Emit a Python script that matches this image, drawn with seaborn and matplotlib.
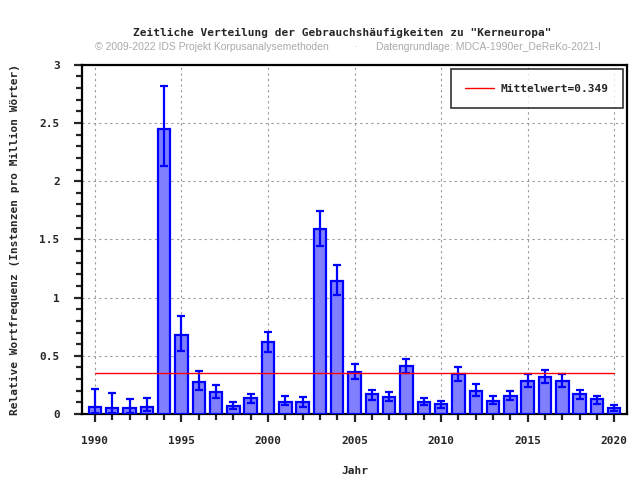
import numpy as np
import pandas as pd
import matplotlib
matplotlib.use("Agg")
import matplotlib.pyplot as plt
from matplotlib.ticker import MultipleLocator
import seaborn as sns

# values
years = list(range(1990, 2021))
freq = [0.063, 0.055, 0.055, 0.063, 2.45, 0.68, 0.278, 0.192, 0.072, 0.135,
        0.622, 0.106, 0.10, 1.59, 1.146, 0.364, 0.169, 0.149, 0.415, 0.106,
        0.083, 0.341, 0.20, 0.115, 0.157, 0.286, 0.321, 0.286, 0.169, 0.126,
        0.055]
err_low = [0.01, 0.01, 0.01, 0.03, 2.13, 0.545, 0.206, 0.14, 0.043, 0.097,
           0.533, 0.077, 0.063, 1.445, 1.023, 0.30, 0.12, 0.115, 0.355, 0.077,
           0.052, 0.284, 0.155, 0.086, 0.12, 0.235, 0.27, 0.235, 0.129, 0.089,
           0.028]
err_high = [0.215, 0.18, 0.13, 0.14, 2.82, 0.84, 0.37, 0.25, 0.106, 0.175,
            0.708, 0.157, 0.149, 1.745, 1.284, 0.432, 0.209, 0.192, 0.476, 0.14,
            0.115, 0.407, 0.255, 0.157, 0.2, 0.341, 0.381, 0.347, 0.209, 0.157,
            0.08]
mean_value = 0.349

df = pd.DataFrame({"Jahr": years, "Frequenz": freq})

sns.set_style("white")
plt.rcParams["font.family"] = ["DejaVu Sans Mono"]

fig = plt.figure(figsize=(6.4, 4.8), dpi=100)
ax = fig.add_axes([0.128, 0.1375, 0.852, 0.7275])

sns.barplot(data=df, x="Jahr", y="Frequenz", native_scale=True, width=0.72,
            color="#8080ff", saturation=1, edgecolor="#0000ff", linewidth=1.6,
            errorbar=None, ax=ax, zorder=3)

yerr = [np.array(freq) - np.array(err_low), np.array(err_high) - np.array(freq)]
ax.errorbar(years, freq, yerr=yerr, fmt="none", ecolor="#0000ff",
            elinewidth=1.6, capsize=2.6, capthick=1.6, zorder=4)

ax.plot([years[0], years[-1]], [mean_value, mean_value], color="#ff0000",
        linewidth=1.0, zorder=5, label="Mittelwert=%.3f" % mean_value)

ax.set_xlim(1989.25, 2020.75)
ax.set_ylim(0, 3)
ax.xaxis.set_major_locator(MultipleLocator(5))
ax.xaxis.set_minor_locator(MultipleLocator(1))
ax.yaxis.set_minor_locator(MultipleLocator(0.1))
ax.set_yticks([0, 0.5, 1, 1.5, 2, 2.5, 3])
ax.set_yticklabels(["0", "0.5", "1", "1.5", "2", "2.5", "3"])

ax.grid(True, which="major", color="#999999", linestyle=(0, (2, 3)), linewidth=0.8)
ax.set_axisbelow(True)
for s in ax.spines.values():
    s.set_linewidth(1.6)
    s.set_color("black")
ax.tick_params(which="major", direction="out", length=6, width=1.6,
               labelsize=8, bottom=True, left=True)
ax.tick_params(which="minor", direction="out", length=4, width=1.6,
               bottom=True, left=True)
ax.tick_params(axis="x", which="major", pad=10)
ax.tick_params(axis="y", which="major", pad=10)
for lab in ax.get_xticklabels() + ax.get_yticklabels():
    lab.set_fontweight("bold")

ax.set_xlabel("Jahr", fontsize=8, fontweight="bold", labelpad=14)
ax.set_ylabel("Relative Wortfrequenz (Instanzen pro Million Wörter)",
              fontsize=8, fontweight="bold", labelpad=14)

leg = ax.legend(loc="upper right", frameon=True, fancybox=False,
                edgecolor="black", handlelength=2.6, handleheight=1.0,
                handletextpad=0.6, borderpad=1.25, borderaxespad=0.4,
                prop={"weight": "bold", "size": 8})
leg.get_frame().set_linewidth(1.2)
leg.set_zorder(10)

fig.text(0.535, 0.924, 'Zeitliche Verteilung der Gebrauchshäufigkeiten zu "Kerneuropa"',
         ha="center", fontsize=8, fontweight="bold")
fig.text(0.148, 0.895, "© 2009-2022 IDS Projekt Korpusanalysemethoden",
         fontsize=7.5, color="#aaaaaa", family="Liberation Sans")
fig.text(0.553, 0.895, "·", fontsize=7.5, color="#aaaaaa", family="Liberation Sans")
fig.text(0.587, 0.895, "Datengrundlage: MDCA-1990er_DeReKo-2021-I",
         fontsize=7.5, color="#aaaaaa", family="Liberation Sans")

fig.savefig("out.png", dpi=100)
